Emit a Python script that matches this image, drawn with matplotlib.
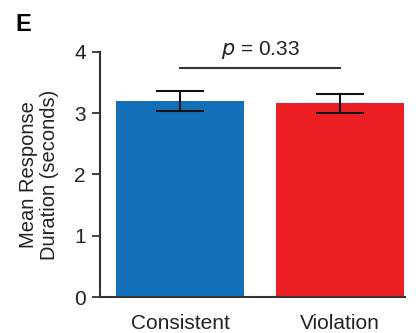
import matplotlib
matplotlib.use('Agg')
import matplotlib.pyplot as plt

plt.rcParams['font.family'] = ['Liberation Sans', 'DejaVu Sans']

conditions = ['Consistent', 'Violation']
means = [3.20, 3.16]
sems = [0.16, 0.15]
bar_colors = ['#1570BA', '#EC2024']
p_label = '$p$ = 0.33'
p_height = 3.74

fig = plt.figure(figsize=(4.16, 3.33), dpi=100)
ax = fig.add_axes([0.240, 0.108, 0.734, 0.736])

x = list(range(len(conditions)))
ax.bar(x, means, width=0.8, color=bar_colors, edgecolor='none', zorder=1)
ax.errorbar(x, means, yerr=sems, fmt='none', ecolor='#111111', elinewidth=1.5,
            capsize=17.5, capthick=1.5, zorder=2)

ax.plot([x[0], x[1]], [p_height, p_height], color='#333333', lw=1.5, clip_on=False)
ax.text((x[0] + x[1]) / 2, p_height + 0.12, p_label, ha='center', va='bottom',
        fontsize=15, color='#222222')

ax.set_xlim(-0.5, 1.405)
ax.set_ylim(0, 4)
ax.set_yticks([0, 1, 2, 3, 4])
ax.set_xticks(x)
ax.set_xticklabels(conditions)
ax.tick_params(axis='y', length=6, width=1.3, color='#333333', labelsize=15,
               labelcolor='#222222', pad=4)
ax.tick_params(axis='x', length=0, labelsize=15, labelcolor='#222222', pad=12)
for s in ['top', 'right']:
    ax.spines[s].set_visible(False)
for s in ['left', 'bottom']:
    ax.spines[s].set_color('#333333')
    ax.spines[s].set_linewidth(1.5)
ax.set_ylabel('Mean Response\nDuration (seconds)', fontsize=14.5, color='#222222',
              labelpad=11, linespacing=1.15)

fig.text(0.036, 0.96, 'E', fontsize=17, fontweight='bold', ha='left', va='top')

plt.savefig('out.png', dpi=100)
